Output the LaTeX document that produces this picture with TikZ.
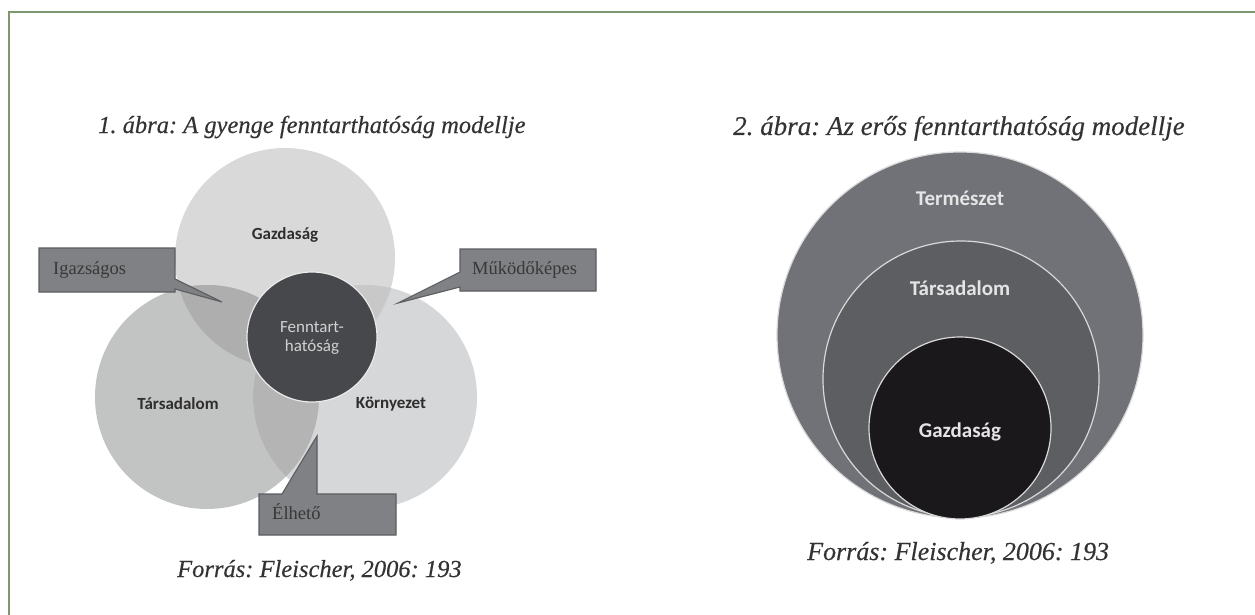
\documentclass[tikz,border=0pt]{standalone}
\usepackage{fontspec}
\setmainfont{Liberation Serif}
\newfontfamily\capfont[FakeBold=0.35]{Liberation Serif}
\newfontfamily\lblfont{Carlito}
\frenchspacing
\begin{document}
\begin{tikzpicture}[x=1pt,y=-1pt,
  title/.style={anchor=base west,inner sep=0pt,text=black!80,font=\capfont\itshape},
  source/.style={anchor=base west,inner sep=0pt,text=black!80,font=\capfont\itshape},
  dark lbl/.style={inner sep=0pt,text=black!82,font=\lblfont\bfseries\fontsize{17}{20}\selectfont},
  light lbl/.style={inner sep=0pt,text=white!90!black,font=\lblfont\bfseries\fontsize{21}{24}\selectfont},
  callout/.style={fill=calloutgray,draw=calloutedge,line width=1.1pt,line join=miter},
  callout text/.style={anchor=base west,inner sep=0pt,text=black!78,font=\fontsize{18.5}{21}\selectfont}]
\definecolor{frame}{RGB}{126,152,112}
\definecolor{gazd}{RGB}{217,217,217}
\definecolor{tars}{RGB}{194,195,195}
\definecolor{korny}{RGB}{214,215,216}
\definecolor{gt}{RGB}{174,174,174}
\definecolor{tk}{RGB}{180,180,180}
\definecolor{gk}{RGB}{200,200,201}
\definecolor{core}{RGB}{71,72,75}
\definecolor{calloutgray}{RGB}{128,129,132}
\definecolor{calloutedge}{RGB}{92,93,96}
\definecolor{outerring}{RGB}{112,114,119}
\definecolor{midring}{RGB}{93,94,98}
\definecolor{innerring}{RGB}{26,24,27}
\useasboundingbox (0,0) rectangle (1255,615);
\fill[white] (0,0) rectangle (1255,615);
% page frame (runs past the right and bottom edges)
\draw[frame,line width=2.2pt] (9,12) rectangle (1270,630);

% ---------- weak sustainability: three overlapping circles ----------
\coordinate (cG) at (285,258);
\coordinate (cT) at (207,397);
\coordinate (cK) at (365,397);
\fill[gazd]  (cG) circle (110);
\fill[tars]  (cT) circle (112);
\fill[korny] (cK) circle (112);
\begin{scope}\clip (cG) circle (110); \fill[gt] (cT) circle (112); \end{scope}
\begin{scope}\clip (cT) circle (112); \fill[tk] (cK) circle (112); \end{scope}
\begin{scope}\clip (cG) circle (110); \fill[gk] (cK) circle (112); \end{scope}
\fill[core,draw=white!92!black,line width=1.2pt] (312,337) circle (65);

\node[dark lbl] (g1) at (285,235) {Gazdaság};
\node[dark lbl] (t1) at (178,404) {Társadalom};
\node[dark lbl] (k1) at (391,404) {Környezet};
\node[inner sep=0pt,align=center,text=white!82!black,font=\lblfont\fontsize{17}{19}\selectfont] (f1) at (312,338) {Fenntart-\\hatóság};

% callouts
\draw[callout] (39,248) -- (175,248) -- (175,279) -- (222,302) -- (175,289) -- (175,292) -- (39,292) -- cycle;
\node[callout text] (ig) at (53,274) {Igazságos};
\draw[callout] (460,249) -- (596,249) -- (596,291) -- (460,291) -- (460,287) -- (398,303) -- (460,272) -- cycle;
\node[callout text] (mk) at (472,274) {Működőképes};
\draw[callout] (259,494) -- (282,494) -- (317,436) -- (317,494) -- (396,494) -- (396,535) -- (259,535) -- cycle;
\node[callout text] (el) at (272,519) {Élhető};

\node[title,font=\capfont\itshape\fontsize{24.5}{28}\selectfont] (t1title) at (98,133) {1. ábra: A gyenge fenntarthatóság modellje};
\node[source,font=\capfont\itshape\fontsize{24.5}{28}\selectfont] (s1) at (177,577) {Forrás: Fleischer, 2006: 193};

% ---------- strong sustainability: nested circles ----------
\fill[outerring,draw=white!85!black,line width=1.2pt] (960,335) circle (183);
\fill[midring,draw=white!85!black,line width=1.2pt] (961,379) circle (138);
\fill[innerring,draw=white!85!black,line width=1.2pt] (960,428) circle (91);
\node[light lbl] (n1) at (960,198) {Természet};
\node[light lbl] (n2) at (960,288) {Társadalom};
\node[light lbl] (n3) at (960,432) {Gazdaság};

\node[title,font=\capfont\itshape\fontsize{27}{31}\selectfont] (t2title) at (733,135) {2. ábra: Az erős fenntarthatóság modellje};
\node[source,font=\capfont\itshape\fontsize{26}{30}\selectfont] (s2) at (807,560) {Forrás: Fleischer, 2006: 193};
\end{tikzpicture}
\end{document}
